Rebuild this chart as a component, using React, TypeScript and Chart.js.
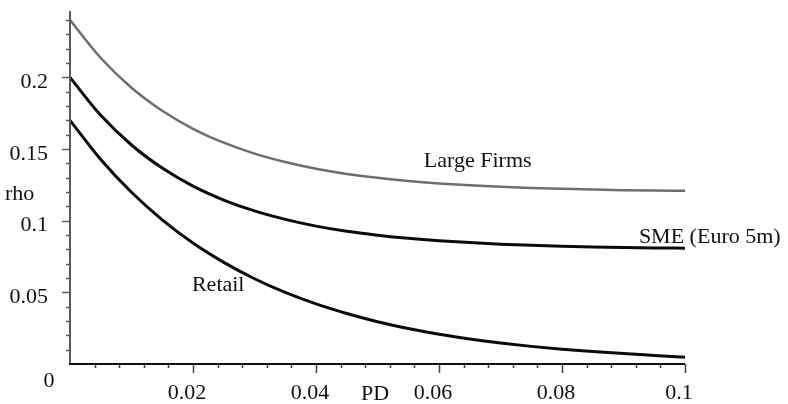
import React, { useEffect, useRef } from 'react';
import { Chart, registerables } from 'chart.js';

Chart.register(...registerables);

// PD values (x axis)
const pd = [0, 0.005, 0.01, 0.015, 0.02, 0.025, 0.03, 0.035, 0.04, 0.045, 0.05, 0.055, 0.06, 0.065, 0.07, 0.075, 0.08, 0.085, 0.09, 0.095, 0.1];

// rho values
const largeFirms = [0.24, 0.2135, 0.1928, 0.1767, 0.1641, 0.1544, 0.1468, 0.1409, 0.1362, 0.1326, 0.1299, 0.1277, 0.126, 0.1247, 0.1236, 0.1228, 0.1222, 0.1217, 0.1213, 0.121, 0.1208];
const sme = [0.2, 0.1735, 0.1528, 0.1367, 0.1241, 0.1144, 0.1068, 0.1009, 0.0962, 0.0926, 0.0899, 0.0877, 0.086, 0.0847, 0.0836, 0.0828, 0.0822, 0.0817, 0.0813, 0.081, 0.0808];
const retail = [0.17, 0.1427, 0.1198, 0.1006, 0.0844, 0.0709, 0.0595, 0.0499, 0.0419, 0.0352, 0.0295, 0.0248, 0.0208, 0.0175, 0.0147, 0.0123, 0.0103, 0.0087, 0.0073, 0.006, 0.0047];

const seriesNames = ['Large Firms', 'SME (Euro 5m)', 'Retail'];

// tick labels
const xTickValues = [0.02, 0.04, 0.06, 0.08, 0.1];
const xTickLabels = ['0.02', '0.04', '0.06', '0.08', '0.1'];
const yTickValues = [0.05, 0.1, 0.15, 0.2];
const yTickLabels = ['0.05', '0.1', '0.15', '0.2'];
const originLabel = '0';
const xTitle = 'PD';
const yTitle = 'rho';

// annotation anchors (data coordinates, text baseline) for series names
const annotationPd = [0.0663, 0.0925, 0.0241];
const annotationRho = [0.1375, 0.0845, 0.0508];
const annotationAlign = ['center', 'left', 'center'];

const FONT = '22px "Liberation Serif", "DejaVu Serif", serif';

const axesPlugin = {
  id: 'customAxes',
  afterDraw(chart: any) {
    const ctx = chart.ctx;
    const xs = chart.scales.x;
    const ys = chart.scales.y;
    const x0 = xs.getPixelForValue(0);
    const y0 = ys.getPixelForValue(0);
    const xEnd = xs.getPixelForValue(0.1);
    const yTop = chart.chartArea.top;
    ctx.save();
    // y axis
    ctx.strokeStyle = '#5a5a5a';
    ctx.lineWidth = 2;
    ctx.beginPath();
    ctx.moveTo(x0, y0);
    ctx.lineTo(x0, yTop);
    ctx.stroke();
    ctx.lineWidth = 1.5;
    for (let i = 1; i <= 24; i++) {
      const v = i / 100;
      const py = Math.round(ys.getPixelForValue(v)) + 0.5;
      const len = i % 5 === 0 ? 8 : 4;
      ctx.beginPath();
      ctx.moveTo(x0, py);
      ctx.lineTo(x0 - len, py);
      ctx.stroke();
    }
    // x axis
    ctx.strokeStyle = '#111';
    ctx.lineWidth = 2;
    ctx.beginPath();
    ctx.moveTo(x0 - 1, y0);
    ctx.lineTo(xEnd, y0);
    ctx.stroke();
    ctx.strokeStyle = '#444';
    ctx.lineWidth = 1.5;
    for (let i = 1; i <= 25; i++) {
      const v = i * 0.004;
      const px = Math.round(xs.getPixelForValue(v)) + 0.5;
      const len = i % 5 === 0 ? 9 : 4;
      ctx.beginPath();
      ctx.moveTo(px, y0);
      ctx.lineTo(px, y0 + len);
      ctx.stroke();
    }
    // labels
    ctx.fillStyle = '#111';
    ctx.font = FONT;
    ctx.textBaseline = 'middle';
    ctx.textAlign = 'right';
    yTickValues.forEach((v, i) => {
      ctx.fillText(yTickLabels[i], x0 - 22, ys.getPixelForValue(v) + 5);
    });
    ctx.textAlign = 'center';
    ctx.fillText(originLabel, x0 - 21, y0 + 17);
    xTickValues.forEach((v, i) => {
      ctx.fillText(xTickLabels[i], xs.getPixelForValue(v) - 6, y0 + 29);
    });
    ctx.fillText(xTitle, xs.getPixelForValue(0.0496), y0 + 30);
    ctx.textAlign = 'left';
    ctx.textBaseline = 'alphabetic';
    ctx.fillText(yTitle, 5, ys.getPixelForValue(0.1144));
    // series names
    seriesNames.forEach((name, i) => {
      ctx.textAlign = annotationAlign[i] as CanvasTextAlign;
      ctx.fillText(name, xs.getPixelForValue(annotationPd[i]), ys.getPixelForValue(annotationRho[i]));
    });
    ctx.restore();
  },
};

export default function App() {
  const canvasRef = useRef<HTMLCanvasElement | null>(null);

  useEffect(() => {
    if (!canvasRef.current) return;
    const mk = (vals: number[]) => pd.map((x, i) => ({ x, y: vals[i] }));
    const chart = new Chart(canvasRef.current, {
      type: 'line',
      data: {
        datasets: [
          {
            label: seriesNames[0],
            data: mk(largeFirms),
            borderColor: '#6e6e6e',
            borderWidth: 2.5,
            pointRadius: 0,
            cubicInterpolationMode: 'monotone',
            clip: false as any,
          },
          {
            label: seriesNames[1],
            data: mk(sme),
            borderColor: '#0a0a0a',
            borderWidth: 3,
            pointRadius: 0,
            cubicInterpolationMode: 'monotone',
            clip: false as any,
          },
          {
            label: seriesNames[2],
            data: mk(retail),
            borderColor: '#0a0a0a',
            borderWidth: 3,
            pointRadius: 0,
            cubicInterpolationMode: 'monotone',
            clip: false as any,
          },
        ],
      },
      options: {
        animation: false,
        responsive: false,
        devicePixelRatio: 1,
        layout: { padding: { left: 70, right: 103, top: 11, bottom: 40 } },
        plugins: { legend: { display: false }, tooltip: { enabled: false } },
        scales: {
          x: { type: 'linear', min: 0, max: 0.1, display: false },
          y: { type: 'linear', min: 0, max: 0.2463, display: false },
        },
      },
      plugins: [axesPlugin],
    });
    return () => chart.destroy();
  }, []);

  return (
    <div style={{ position: 'absolute', left: 0, top: 0, width: 788, height: 404, background: '#fff' }}>
      <canvas ref={canvasRef} width={788} height={404} style={{ width: 788, height: 404, display: 'block' }} />
    </div>
  );
}
